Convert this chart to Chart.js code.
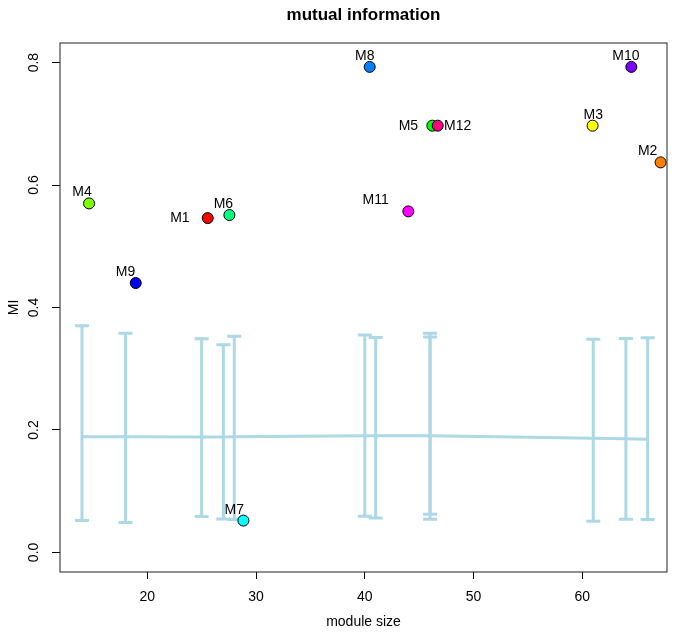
<!DOCTYPE html>
<html>
<head>
<meta charset="utf-8">
<script src="https://cdn.jsdelivr.net/npm/chart.js@4.4.1/dist/chart.umd.min.js"></script>
<style>
  html, body { margin: 0; padding: 0; background: #fff; }
</style>
</head>
<body>
<canvas id="grafico" width="685" height="634"></canvas>
<script>
// modules: label, module size (label anchor), jittered x of the point, MI value
const modules = ['M1', 'M2', 'M3', 'M4', 'M5', 'M6', 'M7', 'M8', 'M9', 'M10', 'M11', 'M12'];
const moduleSize = [25, 66, 61, 14, 46, 27, 28, 40, 18, 64, 41, 46];
const pointX = [25.56, 67.19, 60.94, 14.65, 46.21, 27.55, 28.84, 40.45, 18.94, 64.50, 44.00, 46.70];
const mi = [0.546, 0.637, 0.697, 0.570, 0.697, 0.551, 0.052, 0.793, 0.440, 0.793, 0.557, 0.697];
const pointColors = ['#FF0000', '#FF8000', '#FFFF00', '#80FF00', '#00FF00', '#00FF80',
                     '#00FFFF', '#0080FF', '#0000FF', '#8000FF', '#FF00FF', '#FF0080'];
const labelSide = ['left', 'top', 'top', 'top', 'left', 'top', 'top', 'top', 'top', 'top', 'top', 'right'];

// null distribution: mean and range per module size
const nullSize = [14, 18, 25, 27, 28, 40, 41, 46, 46, 61, 64, 66];
const nullMean = [0.189, 0.189, 0.1885, 0.1885, 0.189, 0.1905, 0.1905, 0.1905, 0.1905, 0.1865, 0.1855, 0.185];
const nullLow = [0.052, 0.049, 0.0587, 0.0547, 0.0538, 0.0592, 0.0564, 0.0624, 0.0542, 0.051, 0.0542, 0.0538];
const nullHigh = [0.370, 0.358, 0.349, 0.339, 0.353, 0.355, 0.351, 0.358, 0.352, 0.348, 0.3495, 0.3505];

const xTicks = [20, 30, 40, 50, 60];
const yTicks = [0, 0.2, 0.4, 0.6, 0.8];

const fam = '"Liberation Sans", Arial, Helvetica, sans-serif';
const barColor = '#ADD8E6';

const errorBars = {
  id: 'errorBars',
  beforeDatasetsDraw(chart) {
    const {ctx, scales: {x, y}} = chart;
    ctx.save();
    ctx.strokeStyle = barColor;
    ctx.lineWidth = 3;
    for (let i = 0; i < nullSize.length; i++) {
      const px = x.getPixelForValue(nullSize[i]);
      const lo = y.getPixelForValue(nullLow[i]);
      const hi = y.getPixelForValue(nullHigh[i]);
      ctx.beginPath();
      ctx.moveTo(px, lo); ctx.lineTo(px, hi);
      ctx.moveTo(px - 7, lo); ctx.lineTo(px + 7, lo);
      ctx.moveTo(px - 7, hi); ctx.lineTo(px + 7, hi);
      ctx.stroke();
    }
    ctx.restore();
  }
};

const pointLabels = {
  id: 'pointLabels',
  afterDatasetsDraw(chart) {
    const {ctx, scales: {x, y}} = chart;
    ctx.save();
    ctx.font = '14px ' + fam;
    ctx.fillStyle = '#000';
    for (let i = 0; i < modules.length; i++) {
      const py = y.getPixelForValue(mi[i]);
      if (labelSide[i] === 'top') {
        ctx.textAlign = 'center';
        ctx.textBaseline = 'alphabetic';
        ctx.fillText(modules[i], x.getPixelForValue(moduleSize[i]), py - 7);
      } else if (labelSide[i] === 'left') {
        ctx.textAlign = 'right';
        ctx.textBaseline = 'middle';
        ctx.fillText(modules[i], x.getPixelForValue(moduleSize[i]) - 12, py);
      } else {
        ctx.textAlign = 'left';
        ctx.textBaseline = 'middle';
        ctx.fillText(modules[i], x.getPixelForValue(moduleSize[i]) + 14, py);
      }
    }
    ctx.restore();
  }
};

const frame = {
  id: 'frame',
  afterDraw(chart) {
    const {ctx, chartArea: a} = chart;
    ctx.save();
    ctx.strokeStyle = '#222';
    ctx.lineWidth = 1;
    ctx.strokeRect(a.left, a.top, a.right - a.left, a.bottom - a.top);
    ctx.restore();
  }
};

new Chart(document.getElementById('grafico'), {
  type: 'scatter',
  data: {
    datasets: [
      {
        data: pointX.map((v, i) => ({x: v, y: mi[i]})),
        backgroundColor: pointColors,
        borderColor: '#000',
        borderWidth: 1,
        pointRadius: 5.5,
        order: 1
      },
      {
        type: 'line',
        data: nullSize.map((v, i) => ({x: v, y: nullMean[i]})),
        borderColor: barColor,
        borderWidth: 3,
        pointRadius: 0,
        tension: 0,
        order: 2
      }
    ]
  },
  options: {
    responsive: false,
    animation: false,
    layout: { padding: { left: 0, right: 18, top: 0, bottom: 0 } },
    plugins: {
      legend: { display: false },
      tooltip: { enabled: false },
      title: {
        display: true,
        fullSize: false,
        text: 'mutual information',
        color: '#000',
        font: { family: fam, size: 17, weight: 'bold' },
        padding: { top: 5, bottom: 17.6 }
      }
    },
    scales: {
      x: {
        type: 'linear',
        min: 11.98,
        max: 67.78,
        afterBuildTicks: s => { s.ticks = xTicks.map(v => ({value: v})); },
        afterFit: s => { s.height = 62; },
        grid: { drawOnChartArea: false, drawTicks: true, tickLength: 7, color: '#000' },
        border: { display: false },
        ticks: { color: '#000', font: { family: fam, size: 14 }, padding: 10, maxRotation: 0, autoSkip: false },
        title: { display: true, text: 'module size', color: '#000', font: { family: fam, size: 14 }, padding: { top: 0, bottom: 3 } }
      },
      y: {
        min: -0.032,
        max: 0.832,
        afterBuildTicks: s => { s.ticks = yTicks.map(v => ({value: v})); },
        afterFit: s => { s.width = 60; },
        grid: { drawOnChartArea: false, drawTicks: true, tickLength: 8, color: '#000' },
        border: { display: false },
        ticks: {
          color: '#000', font: { family: fam, size: 14 }, padding: 8,
          minRotation: 90, maxRotation: 90, crossAlign: 'center', autoSkip: false,
          callback: v => v.toFixed(1)
        },
        title: { display: true, text: 'MI', color: '#000', font: { family: fam, size: 14 }, padding: { top: 6, bottom: 0 } }
      }
    }
  },
  plugins: [errorBars, pointLabels, frame]
});
</script>
</body>
</html>
